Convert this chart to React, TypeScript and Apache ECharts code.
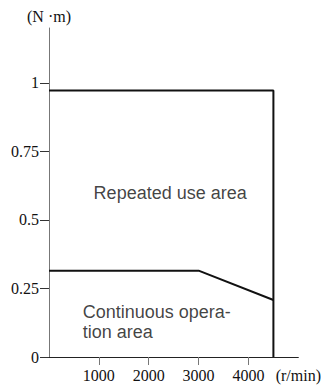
import React, { useEffect, useRef } from "react";
import * as echarts from "echarts";

// Data
const repeatedX = [0, 4500, 4500];
const repeatedY = [0.972, 0.972, 0];
const continuousX = [0, 3000, 4500];
const continuousY = [0.315, 0.315, 0.208];
const xTicks = [1000, 2000, 3000, 4000];
const xLabelValues = [1000, 2000, 3000, 4000, 5000];
const yTicks = [0, 0.25, 0.5, 0.75, 1];
const xUnit = "(r/min)";
const yUnit = "(N ·m)";
const areaLabels = [
  { name: "Repeated use area", x: 2430, y: 0.599, align: "center" },
  { name: "Continuous opera-\ntion area", x: 675, y: 0.126, align: "left" },
];

const serif = "Liberation Serif";
const sans = "Liberation Sans";

export default function App() {
  const ref = useRef<HTMLDivElement>(null);
  useEffect(() => {
    if (!ref.current) return;
    const chart = echarts.init(ref.current, undefined, { renderer: "svg" });
    chart.setOption({
      animation: false,
      textStyle: { fontFamily: serif },
      grid: { left: 49, right: 25, top: 28, bottom: 34 },
      xAxis: {
        type: "value",
        min: 0,
        max: 5000,
        splitLine: { show: false },
        axisLine: { lineStyle: { color: "#222", width: 1 } },
        axisTick: {
          show: true,
          customValues: xTicks,
          length: 8,
          lineStyle: { color: "#777" },
        },
        axisLabel: {
          customValues: xLabelValues,
          margin: 10,
          fontFamily: serif,
          fontSize: 16,
          color: "#111",
          formatter: (v: number) => (v === 5000 ? xUnit : String(v)),
        },
      },
      yAxis: {
        type: "value",
        min: 0,
        max: 1.2,
        name: yUnit,
        nameLocation: "end",
        nameGap: 4,
        nameTextStyle: { fontFamily: serif, fontSize: 16, color: "#111" },
        splitLine: { show: false },
        axisLine: { show: true, lineStyle: { color: "#777", width: 1 } },
        axisTick: {
          show: true,
          customValues: yTicks,
          length: 9,
          lineStyle: { color: "#333" },
        },
        axisLabel: {
          customValues: yTicks,
          margin: 10,
          fontFamily: serif,
          fontSize: 16,
          color: "#111",
          formatter: (v: number) => String(v),
        },
      },
      series: [
        {
          type: "line",
          data: repeatedX.map((x, i) => [x, repeatedY[i]]),
          symbol: "none",
          lineStyle: { color: "#111", width: 2 },
        },
        {
          type: "line",
          data: continuousX.map((x, i) => [x, continuousY[i]]),
          symbol: "none",
          lineStyle: { color: "#111", width: 2 },
        },
        {
          type: "scatter",
          symbolSize: 0,
          silent: true,
          data: areaLabels.map((l) => ({
            value: [l.x, l.y],
            label: {
              show: true,
              position: "inside",
              formatter: l.name,
              align: l.align,
              verticalAlign: "middle",
              fontFamily: sans,
              fontSize: 18,
              lineHeight: 20,
              color: "#111",
            },
          })),
        },
      ],
    });
    return () => chart.dispose();
  }, []);
  return (
    <div
      ref={ref}
      style={{ position: "fixed", left: 0, top: 0, width: 324, height: 391, background: "#fff" }}
    />
  );
}
